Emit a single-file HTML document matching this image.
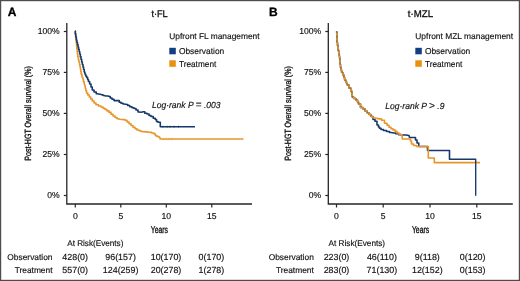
<!DOCTYPE html>
<html><head><meta charset="utf-8"><style>
html,body{margin:0;padding:0;background:#fff;width:520px;height:281px;overflow:hidden}
svg{display:block;will-change:transform;text-rendering:geometricPrecision;font-family:"Liberation Sans",sans-serif}
text{fill:#111111;stroke:#111111;stroke-width:0.15px}
.t{stroke-width:0.3px}
.b{stroke:#111111;stroke-width:0.35px}
.h{fill:#000;stroke:#000;stroke-width:0.3px}
</style></head><body>
<svg width="520" height="281" viewBox="0 0 520 281">
<rect x="0" y="0" width="520" height="281" fill="#fff"/>
<rect x="0.6" y="0.6" width="518.8" height="279.8" fill="none" stroke="#4d4d4d" stroke-width="1.2"/>
<path d="M66.8 23 V204 H252" fill="none" stroke="#262626" stroke-width="1.3"/>
<path d="M63.8 31.5 H66.8" stroke="#262626" stroke-width="1.2"/>
<text x="59.7" y="34.4" font-size="8.6" text-anchor="end">100%</text>
<path d="M63.8 72.4 H66.8" stroke="#262626" stroke-width="1.2"/>
<text x="59.7" y="75.30000000000001" font-size="8.6" text-anchor="end">75%</text>
<path d="M63.8 113.4 H66.8" stroke="#262626" stroke-width="1.2"/>
<text x="59.7" y="116.30000000000001" font-size="8.6" text-anchor="end">50%</text>
<path d="M63.8 154.5 H66.8" stroke="#262626" stroke-width="1.2"/>
<text x="59.7" y="157.4" font-size="8.6" text-anchor="end">25%</text>
<path d="M63.8 195.5 H66.8" stroke="#262626" stroke-width="1.2"/>
<text x="59.7" y="198.4" font-size="8.6" text-anchor="end">0%</text>
<path d="M75.3 204 V207.5" stroke="#262626" stroke-width="1.2"/>
<text x="75.3" y="218.6" font-size="8.6" text-anchor="middle">0</text>
<path d="M120.8 204 V207.5" stroke="#262626" stroke-width="1.2"/>
<text x="120.8" y="218.6" font-size="8.6" text-anchor="middle">5</text>
<path d="M166.3 204 V207.5" stroke="#262626" stroke-width="1.2"/>
<text x="166.3" y="218.6" font-size="8.6" text-anchor="middle">10</text>
<path d="M211.8 204 V207.5" stroke="#262626" stroke-width="1.2"/>
<text x="211.8" y="218.6" font-size="8.6" text-anchor="middle">15</text>
<text x="159.4" y="232.6" font-size="9.8" text-anchor="middle" textLength="17.3" lengthAdjust="spacingAndGlyphs" class="b">Years</text>
<text transform="translate(30.5,113.4) rotate(-90)" x="0" y="0" font-size="9" text-anchor="middle" textLength="94.5" lengthAdjust="spacingAndGlyphs" class="b">Post-HGT Overall survival (%)</text>
<path d="M328.3 23 V204 H512.8" fill="none" stroke="#262626" stroke-width="1.3"/>
<path d="M325.3 31.5 H328.3" stroke="#262626" stroke-width="1.2"/>
<text x="321.2" y="34.4" font-size="8.6" text-anchor="end">100%</text>
<path d="M325.3 72.4 H328.3" stroke="#262626" stroke-width="1.2"/>
<text x="321.2" y="75.30000000000001" font-size="8.6" text-anchor="end">75%</text>
<path d="M325.3 113.4 H328.3" stroke="#262626" stroke-width="1.2"/>
<text x="321.2" y="116.30000000000001" font-size="8.6" text-anchor="end">50%</text>
<path d="M325.3 154.5 H328.3" stroke="#262626" stroke-width="1.2"/>
<text x="321.2" y="157.4" font-size="8.6" text-anchor="end">25%</text>
<path d="M325.3 195.5 H328.3" stroke="#262626" stroke-width="1.2"/>
<text x="321.2" y="198.4" font-size="8.6" text-anchor="end">0%</text>
<path d="M336.5 204 V207.5" stroke="#262626" stroke-width="1.2"/>
<text x="336.5" y="218.6" font-size="8.6" text-anchor="middle">0</text>
<path d="M383.2 204 V207.5" stroke="#262626" stroke-width="1.2"/>
<text x="383.2" y="218.6" font-size="8.6" text-anchor="middle">5</text>
<path d="M430.0 204 V207.5" stroke="#262626" stroke-width="1.2"/>
<text x="430.0" y="218.6" font-size="8.6" text-anchor="middle">10</text>
<path d="M476.8 204 V207.5" stroke="#262626" stroke-width="1.2"/>
<text x="476.8" y="218.6" font-size="8.6" text-anchor="middle">15</text>
<text x="420.54999999999995" y="232.6" font-size="9.8" text-anchor="middle" textLength="17.3" lengthAdjust="spacingAndGlyphs" class="b">Years</text>
<text transform="translate(290.5,113.4) rotate(-90)" x="0" y="0" font-size="9" text-anchor="middle" textLength="94.5" lengthAdjust="spacingAndGlyphs" class="b">Post-HGT Overall survival (%)</text>
<text x="7.8" y="15.9" font-size="12" font-weight="bold" class="h">A</text>
<text x="268.9" y="15.9" font-size="12" font-weight="bold" class="h">B</text>
<text x="151.4" y="16.8" font-size="9.7" textLength="16.3" lengthAdjust="spacingAndGlyphs" class="t">t&#183;FL</text>
<text x="407.8" y="16.8" font-size="9.7" textLength="25.2" lengthAdjust="spacingAndGlyphs" class="t">t&#183;MZL</text>
<text x="169.3" y="38.8" font-size="8.4" textLength="90.2" lengthAdjust="spacingAndGlyphs">Upfront FL management</text>
<rect x="169.3" y="47.8" width="6.5" height="6.5" fill="#123f80"/>
<rect x="169.3" y="60.3" width="6.5" height="6.5" fill="#e8910f"/>
<text x="178.9" y="53.8" font-size="8.6" textLength="45.4" lengthAdjust="spacingAndGlyphs">Observation</text>
<text x="178.9" y="66.6" font-size="8.6" textLength="37.4" lengthAdjust="spacingAndGlyphs">Treatment</text>
<text x="415.3" y="38.8" font-size="8.4" textLength="97.8" lengthAdjust="spacingAndGlyphs">Upfront MZL management</text>
<rect x="415.3" y="47.8" width="6.5" height="6.5" fill="#123f80"/>
<rect x="415.3" y="60.3" width="6.5" height="6.5" fill="#e8910f"/>
<text x="424.90000000000003" y="53.8" font-size="8.6" textLength="45.4" lengthAdjust="spacingAndGlyphs">Observation</text>
<text x="424.90000000000003" y="66.6" font-size="8.6" textLength="37.4" lengthAdjust="spacingAndGlyphs">Treatment</text>
<text x="152" y="108" font-size="8.9" font-style="italic" textLength="68.5" lengthAdjust="spacingAndGlyphs">Log&#183;rank P <tspan font-size="10.5" font-style="normal">=</tspan> .003</text>
<text x="385.2" y="108.9" font-size="8.9" font-style="italic" textLength="59.3" lengthAdjust="spacingAndGlyphs">Log&#183;rank P <tspan font-size="10.5" font-style="normal">&gt;</tspan> .9</text>
<polyline points="75,31 75.18,31.0 75.18,34.0 75.55,34.0 75.55,37.0 75.92,37.0 75.92,40.0 76.1,40 76.25,40.0 76.25,43.0 76.55,43.0 76.55,46.0 76.7,46 76.83,46.0 76.83,48.67 77.1,48.67 77.1,51.33 77.37,51.33 77.37,54.0 77.5,54 77.81,54.0 77.81,57.0 78.44,57.0 78.44,60.0 78.75,60 79.0,60.0 79.0,62.33 79.5,62.33 79.5,64.67 80.0,64.67 80.0,67.0 80.25,67 80.42,67.0 80.42,69.33 80.78,69.33 80.78,71.67 81.12,71.67 81.12,74.0 81.3,74 81.9,74.0 81.9,77.0 82.5,77 83,79 83.4,79.0 83.4,81.5 83.8,81.5 84.15,81.5 84.15,84.0 84.5,84 85,86 85.25,86.0 85.25,88.25 85.75,88.25 85.75,90.5 86,90.5 86.5,90.5 86.5,93.0 87,93 87.75,93.0 87.75,95.0 88.5,95 89.25,95.0 89.25,97.0 90,97 90.75,97.0 90.75,99.0 91.5,99 92.25,99.0 92.25,101.0 93,101 94.0,101.0 94.0,103.0 95,103 96.0,103.0 96.0,104.75 97,104.75 98.5,104.75 98.5,106.0 100,106 101.0,106.0 101.0,107.0 102,107 103.0,107.0 103.0,108.25 104,108.25 105.0,108.25 105.0,109.5 106,109.5 107.0,109.5 107.0,110.9 108,110.9 109.0,110.9 109.0,112.4 110,112.4 111.0,112.4 111.0,114.2 112,114.2 113.0,114.2 113.0,116.0 114,116 115.0,116.0 115.0,117.5 116,117.5 117.0,117.5 117.0,118.75 118,118.75 120,119.25 122,119.5 124,119.6 125.0,119.6 125.0,120.3 126,120.3 127.0,120.3 127.0,122.0 128,122 129.0,122.0 129.0,123.8 130,123.8 131.0,123.8 131.0,125.5 132,125.5 133.0,125.5 133.0,127.3 134,127.3 135.0,127.3 135.0,128.8 136,128.8 137.0,128.8 137.0,130.0 138,130 139.0,130.0 139.0,130.8 140,130.8 141.0,130.8 141.0,131.5 142,131.5 146,131.9 150,132.3 151.5,132.3 151.5,133.0 153,133 154.0,133.0 154.0,134.0 155,134 155.5,134.0 155.5,135.7 156,135.7 157.0,135.7 157.0,136.5 158,136.5 158.9,136.5 158.9,137.3 159.8,137.3 160.2,139 243.5,139" fill="none" stroke="#e8952a" stroke-width="1.6" stroke-linejoin="round"/>
<polyline points="75.1,31 75.35,31.0 75.35,34.0 75.85,34.0 75.85,37.0 76.35,37.0 76.35,40.0 76.6,40 76.88,40.0 76.88,42.33 77.45,42.33 77.45,44.67 78.02,44.67 78.02,47.0 78.3,47 78.58,47.0 78.58,49.33 79.15,49.33 79.15,51.67 79.72,51.67 79.72,54.0 80,54 80.33,54.0 80.33,56.67 81.0,56.67 81.0,59.33 81.67,59.33 81.67,62.0 82,62 82.33,62.0 82.33,64.5 82.97,64.5 82.97,67.0 83.3,67 83.6,67.0 83.6,69.5 84.2,69.5 84.2,72.0 84.5,72 84.9,72.0 84.9,74.0 85.3,74 85.65,74.0 85.65,76.0 86,76 86.65,76.0 86.65,77.5 87.3,77.5 87.65,77.5 87.65,79.5 88,79.5 88.4,79.5 88.4,81.5 88.8,81.5 89.65,81.5 89.65,84.0 90.5,84 91.0,84.0 91.0,87.0 91.5,87 92.25,87.0 92.25,90.0 93,90 94.0,90.0 94.0,92.0 95,92 96.25,92.0 96.25,93.8 97.5,93.8 100,94.3 102,94.8 103.0,94.8 103.0,95.5 104,95.5 106,96 108,96 109.5,96.5 110.25,96.5 110.25,98.0 111,98 112.0,98.0 112.0,99.3 113,99.3 114.0,99.3 114.0,100.6 115,100.6 118.5,100.6 119.25,100.6 119.25,102.3 120,102.3 121.0,102.3 121.0,103.2 122,103.2 123.0,103.2 123.0,104.0 124,104 127,104.5 127.75,104.5 127.75,105.5 128.5,105.5 129.75,105.5 129.75,106.8 131,106.8 132.0,106.8 132.0,107.8 133,107.8 134.0,107.8 134.0,108.5 135,108.5 136.0,108.5 136.0,110.0 137,110 138.0,110.0 138.0,112.0 139,112 141,112.3 143.5,111.8 144.75,111.8 144.75,113.3 146,113.3 147.0,113.3 147.0,114.0 148,114 149.0,114.0 149.0,115.5 150,115.5 151.0,115.5 151.0,116.5 152,116.5 153.25,116.5 153.25,118.3 154.5,118.3 155.25,118.3 155.25,119.5 156,119.5 156.5,119.5 156.5,121.5 157,121.5 158.0,121.5 158.0,122.3 159,122.3 160.3,122.4 160.3,126.8 195,126.8" fill="none" stroke="#15396a" stroke-width="1.6" stroke-linejoin="round"/>
<path d="M162.8 125.5 V128.1" stroke="#15396a" stroke-width="0.8" opacity="0.55"/>
<path d="M167.2 125.5 V128.1" stroke="#15396a" stroke-width="0.8" opacity="0.55"/>
<path d="M170 125.5 V128.1" stroke="#15396a" stroke-width="0.8" opacity="0.55"/>
<path d="M174 125.5 V128.1" stroke="#15396a" stroke-width="0.8" opacity="0.55"/>
<path d="M178.5 125.5 V128.1" stroke="#15396a" stroke-width="0.8" opacity="0.55"/>
<path d="M163.3 137.7 V140.3" stroke="#e8952a" stroke-width="0.8" opacity="0.55"/>
<path d="M166.3 137.7 V140.3" stroke="#e8952a" stroke-width="0.8" opacity="0.55"/>
<path d="M169 137.7 V140.3" stroke="#e8952a" stroke-width="0.8" opacity="0.55"/>
<path d="M172 137.7 V140.3" stroke="#e8952a" stroke-width="0.8" opacity="0.55"/>
<polyline points="336.7,31.2 337,40 337.17,40.0 337.17,42.67 337.5,42.67 337.5,45.33 337.83,45.33 337.83,48.0 338,48 338.25,48.0 338.25,50.67 338.75,50.67 338.75,53.33 339.25,53.33 339.25,56.0 339.5,56 340,62 340.17,62.0 340.17,64.67 340.5,64.67 340.5,67.33 340.83,67.33 340.83,70.0 341,70 341.62,70.0 341.62,72.5 342.88,72.5 342.88,75.0 343.5,75 343.88,75.0 343.88,77.5 344.62,77.5 344.62,80.0 345,80 345.75,80.0 345.75,82.5 347.25,82.5 347.25,85.0 348,85 349.0,85.0 349.0,88.0 350,88 350.75,88.0 350.75,91.0 351.5,91 351.75,91.0 351.75,94.0 352.25,94.0 352.25,97.0 352.5,97 353.62,97.0 353.62,98.5 355.88,98.5 355.88,100.0 357,100 357.5,100.0 357.5,102.0 358.5,102.0 358.5,104.0 359,104 360.5,104.0 360.5,107.5 362,107.5 363.0,107.5 363.0,109.0 364,109 365.0,109.0 365.0,111.0 366,111 367.0,111.0 367.0,112.75 368,112.75 369.0,112.75 369.0,114.5 370,114.5 371.0,114.5 371.0,116.5 372,116.5 373.0,116.5 373.0,119.5 374,119.5 375.0,119.5 375.0,121.3 376,121.3 377.0,121.3 377.0,125.0 378,125 378.5,125.0 378.5,127.0 379,127 379.5,127.0 379.5,128.3 380,128.3 381.0,128.3 381.0,129.5 382,129.5 383.5,129.5 383.5,130.5 385,130.5 386.5,130.5 386.5,131.5 388,131.5 389.5,131.5 389.5,132.5 391,132.5 394,133 395.5,133.0 395.5,133.6 397,133.6 398.5,133.6 398.5,134.6 400,134.6 403,135 406,135 409,135.5 409.5,137.5 415,137.5 415.5,137.5 415.5,140.0 416,140 417.0,140.0 417.0,143.0 418,143 418.75,143.0 418.75,146.5 419.5,146.5 427.5,146.5 427.5,150.5 449.5,150.5 449.5,159.3 475.7,159.3" fill="none" stroke="#15396a" stroke-width="1.6" stroke-linejoin="round"/>
<polyline points="336.7,31.2 337,40 337.17,40.0 337.17,42.67 337.5,42.67 337.5,45.33 337.83,45.33 337.83,48.0 338,48 338.25,48.0 338.25,50.67 338.75,50.67 338.75,53.33 339.25,53.33 339.25,56.0 339.5,56 340,62 340.17,62.0 340.17,64.67 340.5,64.67 340.5,67.33 340.83,67.33 340.83,70.0 341,70 341.62,70.0 341.62,72.5 342.88,72.5 342.88,75.0 343.5,75 343.88,75.0 343.88,77.5 344.62,77.5 344.62,80.0 345,80 345.75,80.0 345.75,82.5 347.25,82.5 347.25,85.0 348,85 349.0,85.0 349.0,88.0 350,88 350.75,88.0 350.75,91.0 351.5,91 351.75,91.0 351.75,94.0 352.25,94.0 352.25,97.0 352.5,97 353.62,97.0 353.62,98.5 355.88,98.5 355.88,100.0 357,100 357.5,100.0 357.5,102.0 358.5,102.0 358.5,104.0 359,104 360.5,104.0 360.5,107.5 362,107.5 363.0,107.5 363.0,109.0 364,109 365.0,109.0 365.0,111.0 366,111 367.0,111.0 367.0,112.75 368,112.75 369.0,112.75 369.0,114.5 370,114.5 371.0,114.5 371.0,116.5 372,116.5 373.0,116.5 373.0,117.8 374,117.8 376,118.3 377.0,118.3 377.0,118.6 379.0,118.6 379.0,118.9 380,118.9 381.5,118.9 381.5,120.3 383,120.3 384.5,120.3 384.5,123.2 386,123.2 387.0,123.2 387.0,125.3 388,125.3 389.0,125.3 389.0,127.3 390,127.3 391.0,127.3 391.0,128.7 392,128.7 393.0,128.7 393.0,129.9 394,129.9 395.0,129.9 395.0,131.3 396,131.3 397.0,131.3 397.0,133.0 398,133 399.0,133.0 399.0,134.2 400,134.2 401.0,134.2 401.0,134.8 402,134.8 402.3,139 410,139 410.5,139.0 410.5,141.0 411,141 411.5,141.0 411.5,144.0 412,144 413.5,144.0 413.5,145.5 415,145.5 416.5,145.5 416.5,146.5 418,146.5 428.3,146.5 428.3,158 434.3,158 434.3,162.6 480,162.6" fill="none" stroke="#e8952a" stroke-width="1.6" stroke-linejoin="round"/>
<polyline points="336.7,31.2 337,40 338,48 339.5,56 340,62 341,70 343.5,75 345,80 348,85 350,88 351.5,91 352.5,97 357,100 359,104 362,107.5 364,109 366,111 368,112.75 370,114.5 372,116.5" fill="none" stroke="#15396a" stroke-width="0.8" stroke-opacity="0.6" stroke-dasharray="2 2.5"/>
<path d="M475.7 159.3 V195" stroke="#15396a" stroke-width="1.35" stroke-linecap="square"/>
<text x="67.2" y="246.3" font-size="8.4" textLength="56.2" lengthAdjust="spacingAndGlyphs">At Risk(Events)</text>
<text x="328.5" y="246.3" font-size="8.4" textLength="56.6" lengthAdjust="spacingAndGlyphs">At Risk(Events)</text>
<text x="52.5" y="259.5" font-size="8.4" text-anchor="end">Observation</text>
<text x="52.5" y="272.6" font-size="8.4" text-anchor="end">Treatment</text>
<text x="313.8" y="259.5" font-size="8.4" text-anchor="end">Observation</text>
<text x="313.8" y="272.6" font-size="8.4" text-anchor="end">Treatment</text>
<text x="75.2" y="259.5" font-size="8.9" text-anchor="middle">428(0)</text>
<text x="75.2" y="272.6" font-size="8.9" text-anchor="middle">557(0)</text>
<text x="336.5" y="259.5" font-size="8.9" text-anchor="middle">223(0)</text>
<text x="336.5" y="272.6" font-size="8.9" text-anchor="middle">283(0)</text>
<text x="120.6" y="259.5" font-size="8.9" text-anchor="middle">96(157)</text>
<text x="120.6" y="272.6" font-size="8.9" text-anchor="middle">124(259)</text>
<text x="381.9" y="259.5" font-size="8.9" text-anchor="middle">46(110)</text>
<text x="381.9" y="272.6" font-size="8.9" text-anchor="middle">71(130)</text>
<text x="166.0" y="259.5" font-size="8.9" text-anchor="middle">10(170)</text>
<text x="166.0" y="272.6" font-size="8.9" text-anchor="middle">20(278)</text>
<text x="427.3" y="259.5" font-size="8.9" text-anchor="middle">9(118)</text>
<text x="427.3" y="272.6" font-size="8.9" text-anchor="middle">12(152)</text>
<text x="211.4" y="259.5" font-size="8.9" text-anchor="middle">0(170)</text>
<text x="211.4" y="272.6" font-size="8.9" text-anchor="middle">1(278)</text>
<text x="472.7" y="259.5" font-size="8.9" text-anchor="middle">0(120)</text>
<text x="472.7" y="272.6" font-size="8.9" text-anchor="middle">0(153)</text>
</svg>
</body></html>
